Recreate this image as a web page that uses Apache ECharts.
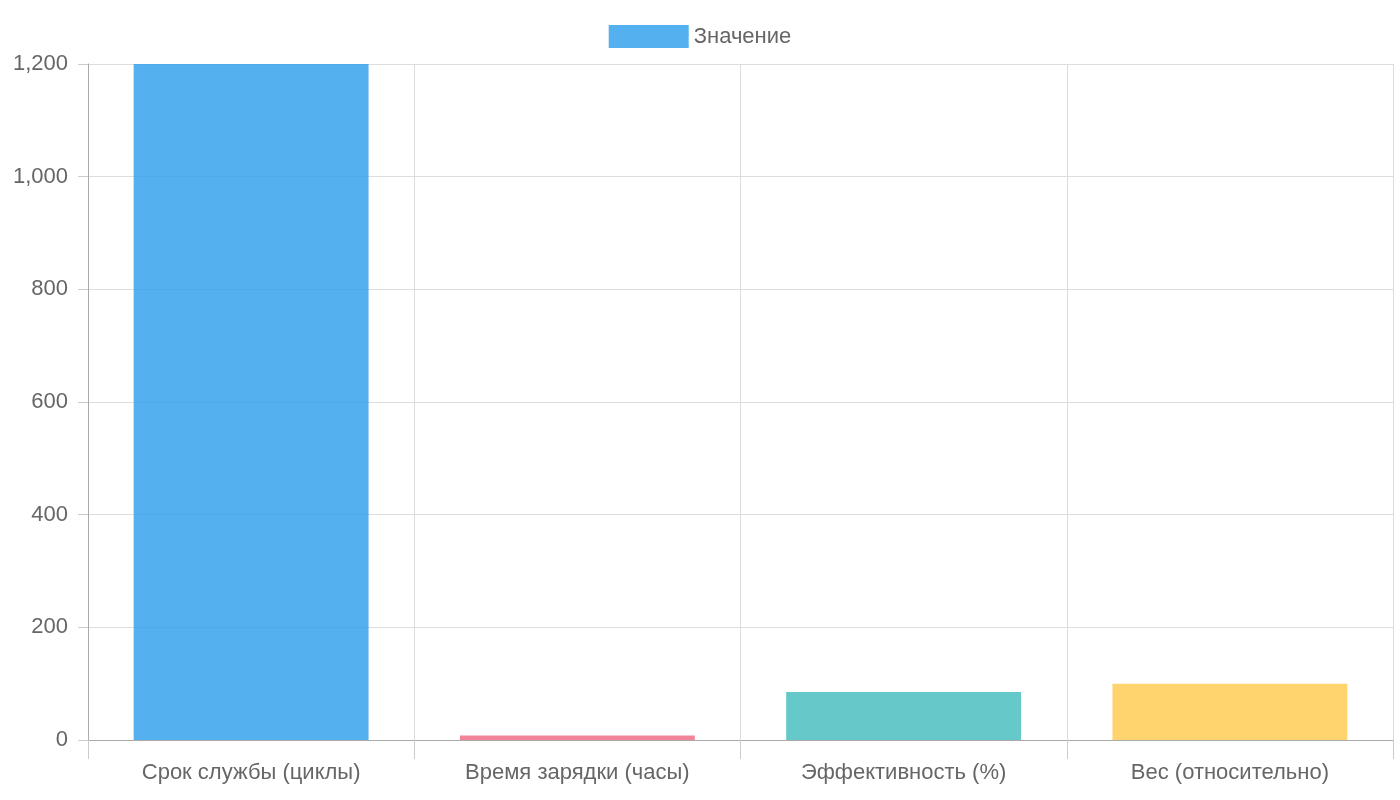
<!DOCTYPE html>
<html><head><meta charset="utf-8">
<script src="https://cdn.jsdelivr.net/npm/echarts@6/dist/echarts.min.js"></script>
<style>html,body{margin:0;padding:0;background:#fff}#c{width:1400px;height:800px}</style>
</head><body><div id="c"></div>
<script>
const categories = ['Срок службы (циклы)', 'Время зарядки (часы)', 'Эффективность (%)', 'Вес (относительно)'];
const values = [1200, 8, 85, 100];
const colors = ['rgba(54,162,235,0.85)', 'rgba(240,110,135,0.85)', 'rgba(75,192,192,0.85)', 'rgba(255,205,86,0.85)'];
const yTicks = [0, 200, 400, 600, 800, 1000, 1200];
const chart = echarts.init(document.getElementById('c'));
chart.setOption({
  animation: false,
  legend: {top: 20, left: 'center', itemWidth: 80, itemHeight: 23, icon: 'rect',
    textStyle: {fontFamily: 'Liberation Sans, Arial', fontSize: 22, color: '#666'}},
  grid: {left: 88, right: 7, top: 64, bottom: 60},
  xAxis: {type: 'category', data: categories,
    axisLine: {lineStyle: {color: '#aaa'}},
    axisTick: {show: true, length: 19, lineStyle: {color: '#ccc'}},
    splitLine: {show: true, lineStyle: {color: '#ddd'}},
    axisLabel: {fontFamily: 'Liberation Sans, Arial', fontSize: 22, color: '#666', margin: 22}},
  yAxis: {type: 'value', min: yTicks[0], max: yTicks[yTicks.length-1], interval: 200,
    axisLine: {show: true, lineStyle: {color: '#aaa'}},
    axisTick: {show: true, length: 10, lineStyle: {color: '#ccc'}},
    splitLine: {lineStyle: {color: '#ddd'}},
    axisLabel: {fontFamily: 'Liberation Sans, Arial', fontSize: 22, color: '#666', margin: 20}},
  series: [{name: 'Значение', type: 'bar', barWidth: '72%',
    itemStyle: {color: colors[0]},
    data: values.map((v, i) => ({value: v, itemStyle: {color: colors[i]}}))}]
});
</script></body></html>
